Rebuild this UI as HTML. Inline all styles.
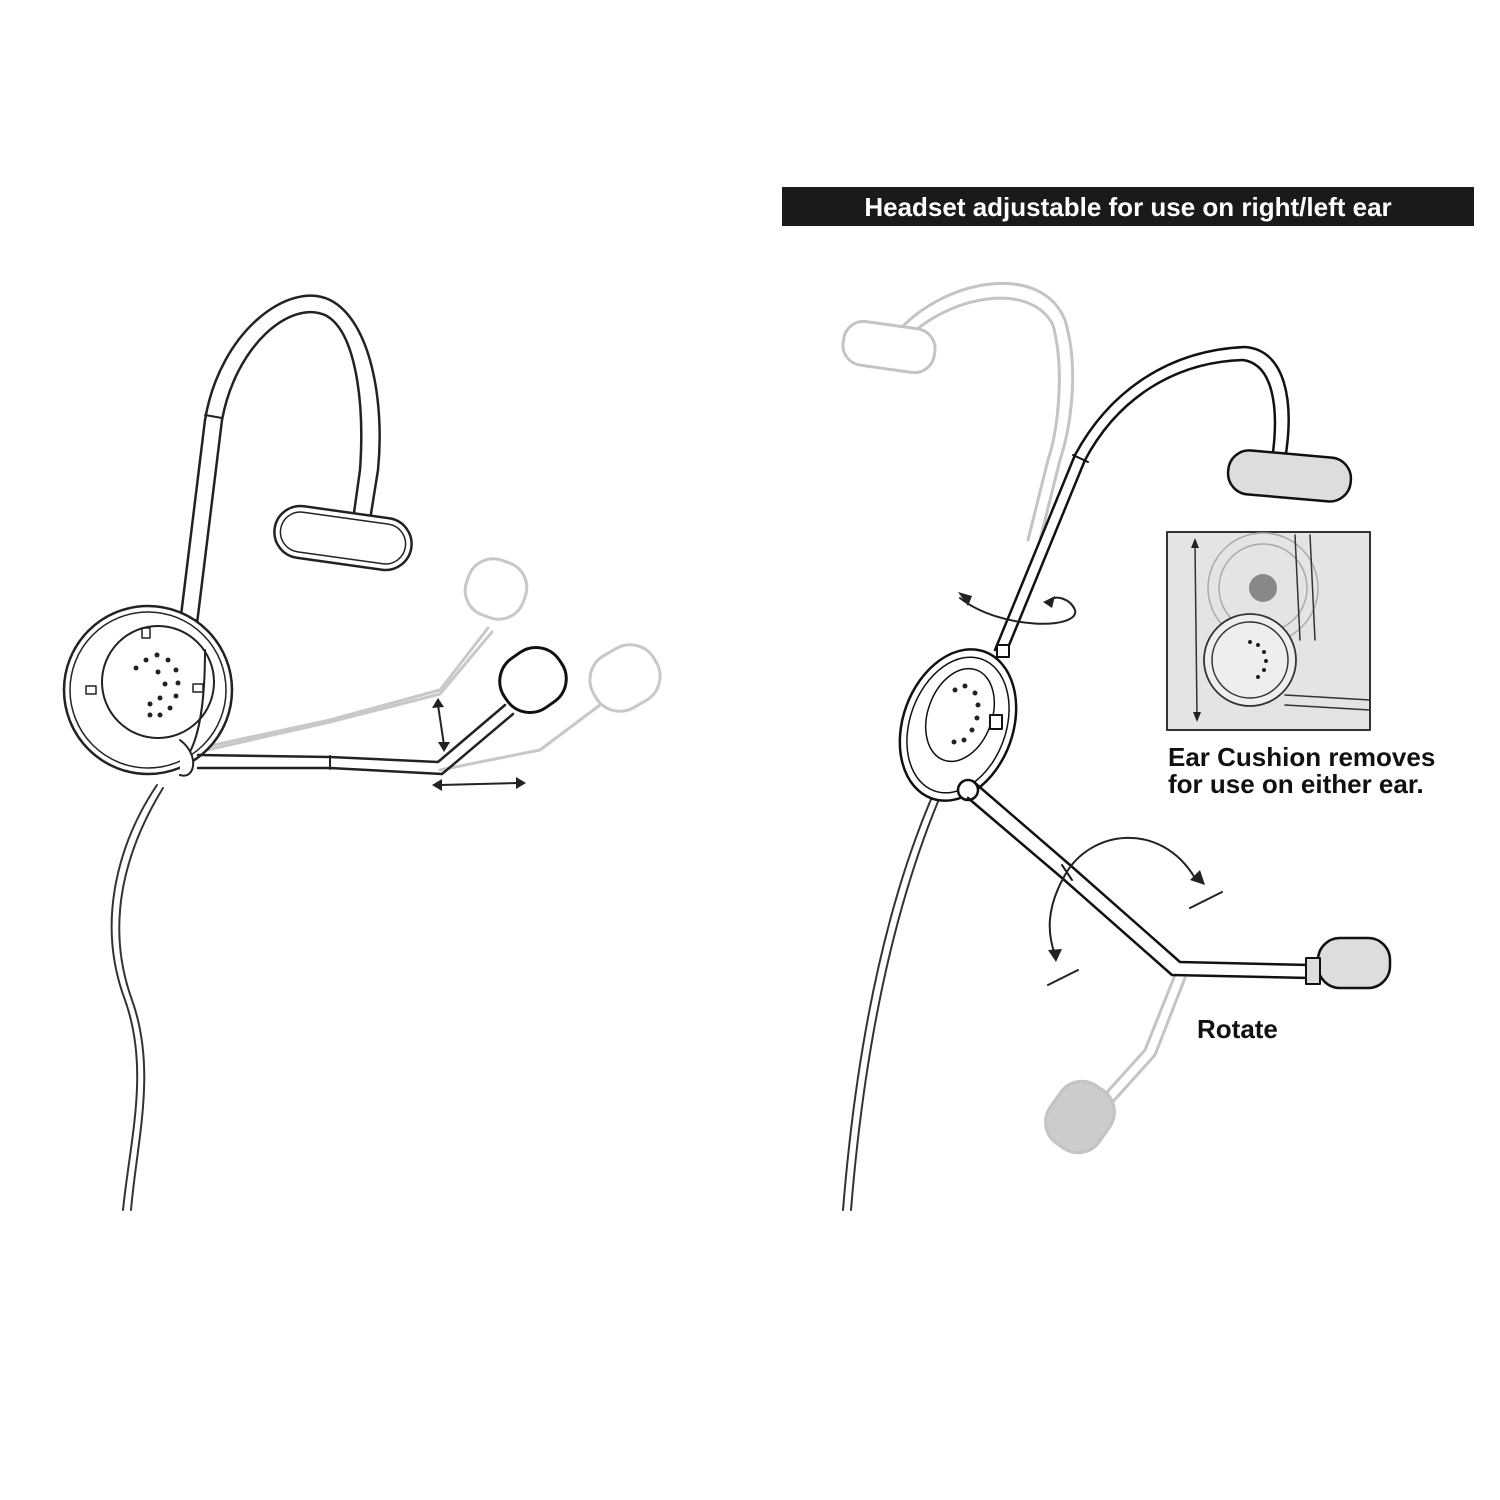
<!DOCTYPE html>
<html><head><meta charset="utf-8"><style>
html,body{margin:0;padding:0;background:#fff;}
svg{display:block}
text{font-family:"Liberation Sans",sans-serif;font-weight:bold}
</style></head><body>
<svg width="1500" height="1500" viewBox="0 0 1500 1500" xmlns="http://www.w3.org/2000/svg">
<rect width="1500" height="1500" fill="#fff"/>
<g fill="none" stroke-linecap="round" stroke-linejoin="round">
 <g stroke="#c8c8c8" stroke-width="3">
  <path d="M200 748 L330 720 L440 690 L488 628"/>
  <path d="M198 752 L330 722 L440 694 L492 632"/>
  <rect x="466" y="560" width="60" height="58" rx="26" transform="rotate(20 496 589)" fill="#fff"/>
  <path d="M440 770 L540 750 L600 705"/>
  <rect x="590" y="648" width="70" height="60" rx="28" transform="rotate(-30 625 678)" fill="#fff"/>
 </g>
 <path d="M157 785 C120 840 95 920 125 1000 C150 1070 130 1140 123 1210" stroke="#333" stroke-width="2"/>
 <path d="M163 788 C128 845 103 920 132 1000 C157 1070 137 1140 131 1210" stroke="#333" stroke-width="2"/>
 <path d="M178 640 L205 420 C220 330 290 280 330 300 C370 320 385 400 378 470 L370 520" stroke="#222" stroke-width="2.5"/>
 <path d="M195 640 L222 420 C236 345 290 300 325 315 C355 330 365 400 360 470 L353 520" stroke="#222" stroke-width="2.5"/>
 <path d="M205 415 L222 418" stroke="#222" stroke-width="2"/>
 <rect x="176" y="620" width="20" height="22" stroke="#222" stroke-width="2" fill="#fff"/>
 <rect x="274" y="512" width="138" height="52" rx="26" transform="rotate(8 343 538)" stroke="#222" stroke-width="2.5" fill="#fff"/>
 <rect x="280" y="518" width="126" height="40" rx="20" transform="rotate(8 343 538)" stroke="#222" stroke-width="1.5"/>
 <circle cx="148" cy="690" r="84" stroke="#222" stroke-width="2.5" fill="#fff"/>
 <circle cx="148" cy="690" r="78" stroke="#222" stroke-width="1.5"/>
 <circle cx="158" cy="682" r="56" stroke="#222" stroke-width="2"/>
 <rect x="142" y="628" width="8" height="10" stroke="#222" stroke-width="1.5"/>
 <rect x="86" y="686" width="10" height="8" stroke="#222" stroke-width="1.5"/>
 <rect x="193" y="684" width="10" height="8" stroke="#222" stroke-width="1.5"/>
 <path d="M185 760 C200 740 205 700 205 650" stroke="#222" stroke-width="2"/>
 <path d="M180 740 C200 755 195 780 180 775" stroke="#222" stroke-width="2" fill="#fff"/>
 <path d="M198 755 L330 757 L438 762 L505 705" stroke="#222" stroke-width="2.5"/>
 <path d="M198 768 L330 768 L442 774 L513 714" stroke="#222" stroke-width="2.5"/>
 <path d="M330 756 L330 769" stroke="#222" stroke-width="2"/>
 <rect x="500" y="650" width="66" height="60" rx="28" transform="rotate(-35 533 680)" stroke="#111" stroke-width="3" fill="#fff"/>
 <path d="M438 705 L444 745" stroke="#222" stroke-width="2"/>
 <path d="M440 785 L518 783" stroke="#222" stroke-width="2"/>
</g>
<g fill="#222">
 <circle cx="136" cy="668" r="2.5"/><circle cx="146" cy="660" r="2.5"/><circle cx="157" cy="655" r="2.5"/><circle cx="168" cy="660" r="2.5"/><circle cx="176" cy="670" r="2.5"/>
 <circle cx="178" cy="683" r="2.5"/><circle cx="176" cy="696" r="2.5"/><circle cx="170" cy="708" r="2.5"/><circle cx="160" cy="715" r="2.5"/><circle cx="150" cy="715" r="2.5"/>
 <circle cx="158" cy="672" r="2.5"/><circle cx="165" cy="684" r="2.5"/><circle cx="160" cy="698" r="2.5"/><circle cx="150" cy="704" r="2.5"/>
 <path d="M432 708 L438 698 L444 707Z"/><path d="M438 742 L444 752 L450 742Z"/>
 <path d="M442 779 L432 785 L442 791Z"/><path d="M516 777 L526 783 L516 789Z"/>
</g>
<rect x="782" y="187" width="692" height="39" fill="#1a1a1a"/>
<text x="1128" y="216" fill="#fff" font-size="26" text-anchor="middle">Headset adjustable for use on right/left ear</text>
<g fill="none" stroke-linecap="round" stroke-linejoin="round">
 <g stroke="#c4c4c4" stroke-width="3">
  <path d="M895 335 C940 280 1040 260 1065 320 C1080 370 1070 430 1060 460 L1040 540"/>
  <path d="M900 345 C945 295 1030 280 1053 325 C1065 370 1058 430 1048 460 L1028 540"/>
  <rect x="843" y="325" width="92" height="44" rx="20" transform="rotate(8 889 347)" fill="#fff"/>
  <path d="M1175 975 L1145 1050 L1100 1100"/>
  <path d="M1185 978 L1155 1055 L1110 1105"/>
  <rect x="1050" y="1082" width="60" height="70" rx="26" transform="rotate(35 1080 1117)" fill="#ccc"/>
 </g>
 <path d="M935 790 C900 870 860 1000 843 1210" stroke="#333" stroke-width="2"/>
 <path d="M942 792 C908 872 868 1000 851 1210" stroke="#333" stroke-width="2"/>
 <path d="M995 650 L1075 455 C1110 390 1170 350 1245 347 C1285 350 1295 400 1285 460" stroke="#111" stroke-width="2.5"/>
 <path d="M1005 655 L1085 460 C1118 398 1175 362 1243 360 C1272 364 1280 405 1272 460" stroke="#111" stroke-width="2.5"/>
 <path d="M1073 455 L1088 462" stroke="#111" stroke-width="2"/>
 <rect x="1228" y="454" width="123" height="44" rx="21" transform="rotate(5 1290 476)" stroke="#111" stroke-width="2.5" fill="#ddd"/>
 <path d="M960 598 C1000 630 1080 630 1075 610 C1070 598 1055 595 1050 600" stroke="#222" stroke-width="2"/>
 <ellipse cx="958" cy="725" rx="55" ry="78" transform="rotate(20 958 725)" stroke="#111" stroke-width="2.5" fill="#fff"/>
 <ellipse cx="958" cy="725" rx="48" ry="70" transform="rotate(20 958 725)" stroke="#111" stroke-width="1.5"/>
 <ellipse cx="960" cy="715" rx="32" ry="48" transform="rotate(20 960 715)" stroke="#111" stroke-width="1.5"/>
 <rect x="990" y="715" width="12" height="14" stroke="#111" stroke-width="2" fill="#fff"/>
 <rect x="997" y="645" width="12" height="12" stroke="#111" stroke-width="2" fill="#fff"/>
 <circle cx="968" cy="790" r="10" stroke="#111" stroke-width="2.5" fill="#fff"/>
 <path d="M975 783 L1070 865 L1180 962 L1310 965" stroke="#111" stroke-width="2.5"/>
 <path d="M968 798 L1062 878 L1172 975 L1310 978" stroke="#111" stroke-width="2.5"/>
 <path d="M1062 865 L1072 880" stroke="#111" stroke-width="2"/>
 <rect x="1318" y="938" width="72" height="50" rx="22" stroke="#111" stroke-width="2.5" fill="#ddd"/>
 <rect x="1306" y="958" width="14" height="26" stroke="#111" stroke-width="2" fill="#ddd"/>
 <path d="M1195 878 C1160 820 1090 830 1065 875 C1045 910 1048 935 1055 955" stroke="#222" stroke-width="2"/>
 <path d="M1190 908 L1222 892" stroke="#222" stroke-width="2"/>
 <path d="M1048 985 L1078 970" stroke="#222" stroke-width="2"/>
 <rect x="1167" y="532" width="203" height="198" stroke="#333" stroke-width="2" fill="#e4e4e4"/>
 <circle cx="1263" cy="588" r="55" stroke="#aaa" stroke-width="1.5"/>
 <circle cx="1263" cy="588" r="44" stroke="#aaa" stroke-width="1.5"/>
 <path d="M1295 535 L1300 640 M1310 535 L1315 640" stroke="#333" stroke-width="1.5"/>
 <circle cx="1250" cy="660" r="46" stroke="#333" stroke-width="1.8" fill="#eee"/>
 <circle cx="1250" cy="660" r="38" stroke="#333" stroke-width="1.5"/>
 <path d="M1285 695 L1370 700 M1285 705 L1370 710" stroke="#333" stroke-width="1.5"/>
 <path d="M1195 545 L1197 715" stroke="#333" stroke-width="1.5"/>
</g>
<circle cx="1263" cy="588" r="14" fill="#888"/>
<g fill="#222">
 <path d="M958 592 L968 606 L972 596Z"/><path d="M1043 602 L1055 596 L1052 608Z"/>
 <path d="M1200 870 L1205 885 L1190 880Z"/><path d="M1048 950 L1056 962 L1062 949Z"/>
 <path d="M1191 548 L1195 538 L1199 548Z"/><path d="M1193 712 L1197 722 L1201 712Z"/>
 <circle cx="955" cy="690" r="2.5"/><circle cx="965" cy="686" r="2.5"/><circle cx="975" cy="693" r="2.5"/><circle cx="978" cy="705" r="2.5"/><circle cx="977" cy="718" r="2.5"/><circle cx="972" cy="730" r="2.5"/><circle cx="964" cy="740" r="2.5"/><circle cx="954" cy="742" r="2.5"/>
 <circle cx="1250" cy="642" r="2"/><circle cx="1258" cy="645" r="2"/><circle cx="1264" cy="652" r="2"/><circle cx="1266" cy="661" r="2"/><circle cx="1264" cy="670" r="2"/><circle cx="1258" cy="677" r="2"/>
</g>
<text x="1168" y="766" font-size="26" fill="#111">Ear Cushion removes</text>
<text x="1168" y="793" font-size="26" fill="#111">for use on either ear.</text>
<text x="1197" y="1038" font-size="26" fill="#111">Rotate</text>
</svg>
</body></html>
